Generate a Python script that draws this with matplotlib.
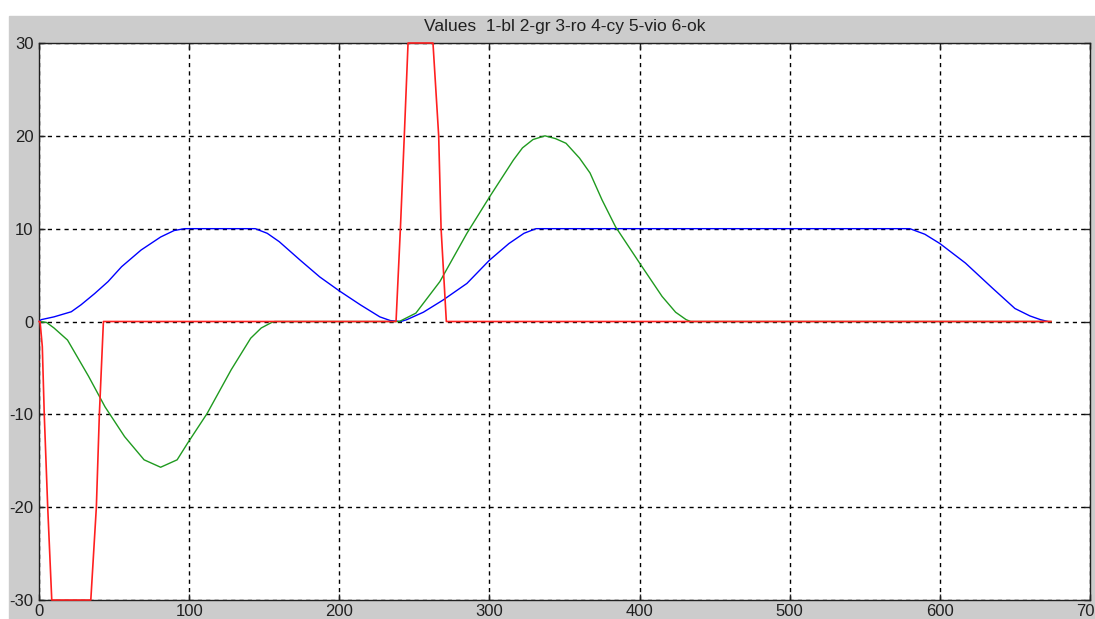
import matplotlib
matplotlib.use('Agg')
import matplotlib.pyplot as plt
from matplotlib.patches import Rectangle

plt.rcParams.update({
    'font.family': ['Liberation Sans', 'DejaVu Sans'],
    'font.size': 12,
    'axes.unicode_minus': False,
})

# ── Colours ──────────────────────────────────────────────────────────
BG_CLR    = '#cccccc'   # window gray
BLUE_CLR  = '#0000ff'
GREEN_CLR = '#1f9a1f'
RED_CLR   = '#ff2020'
AXIS_CLR  = '#202020'

# ── Data ────────────────────────────────────────────────────────────
# 1 - blue (position)
blue_x = [0, 1.5, 10, 21.5, 28, 37, 46, 55, 68, 81, 90, 97, 144, 152, 160,
          174, 187, 200, 214, 227, 234, 241, 245, 256, 269, 285, 300, 313,
          323, 331, 580, 590, 600, 617, 635, 650, 660, 667, 672]
blue_y = [0, 0.2, 0.5, 1.05, 1.8, 3.0, 4.3, 5.9, 7.7, 9.1, 9.8, 10, 10, 9.5,
          8.6, 6.6, 4.8, 3.3, 1.8, 0.5, 0.1, 0, 0.2, 1.0, 2.3, 4.1, 6.6, 8.4,
          9.5, 10, 10, 9.4, 8.4, 6.3, 3.6, 1.4, 0.6, 0.2, 0]

# 2 - green (velocity)
green_x = [0, 5, 10, 19, 33, 44, 57, 70, 81, 92, 99, 112, 128, 141, 148, 155,
           157, 240, 251, 267, 285, 300, 316, 322, 329, 333, 337, 344, 351,
           360, 367, 375, 384, 400, 415, 424, 431, 434, 674]
green_y = [0, -0.1, -0.7, -2.0, -5.9, -9.2, -12.4, -14.9, -15.7, -14.9, -13.1,
           -9.9, -5.2, -1.8, -0.7, -0.1, 0, 0, 0.9, 4.3, 9.5, 13.4, 17.4,
           18.7, 19.6, 19.8, 20, 19.7, 19.2, 17.6, 16, 13.1, 10.2, 6.3, 2.7,
           1.0, 0.2, 0, 0]

# 3 - red (acceleration, clipped at the axis limits)
red_x = [0, 0.7, 2.2, 3.5, 5.8, 8.5, 34.5, 38.2, 40.2, 42.9, 237.8, 240.7,
         243.3, 245.8, 262.4, 266.2, 267.8, 271.3, 674]
red_y = [0, 0, -2.7, -10, -20, -30, -30, -20, -10, 0, 0, 10, 20, 30, 30, 20,
         10, 0, 0]

x_ticks = [0, 100, 200, 300, 400, 500, 600, 700]
y_ticks = [-30, -20, -10, 0, 10, 20, 30]

W, H = 1095, 619
fig = plt.figure(figsize=(W / 100, H / 100), dpi=100, facecolor='white')
fig.patches.append(Rectangle((9 / W, 0), 1, (H - 16) / H,
                             transform=fig.transFigure, color=BG_CLR,
                             zorder=-10))

ax = fig.add_axes([39 / W, (H - 600) / H, (1090 - 39) / W, (600 - 43) / H])
ax.set_facecolor('white')

ax.plot(blue_x, blue_y, color=BLUE_CLR, lw=1.0, zorder=3)
ax.plot(green_x, green_y, color=GREEN_CLR, lw=1.0, zorder=3)
ax.plot(red_x, red_y, color=RED_CLR, lw=1.2, zorder=4, clip_on=False)

ax.set_xlim(0, 700)
ax.set_ylim(-30, 30)
ax.set_xticks(x_ticks)
ax.set_yticks(y_ticks)

ax.grid(True, color='black', linestyle=(0, (3, 3)), lw=1.0, zorder=1)
for s in ax.spines.values():
    s.set_color(AXIS_CLR)
    s.set_linewidth(1.0)
ax.tick_params(direction='in', length=4, width=1, colors=AXIS_CLR,
               top=True, right=True, labelsize=12, pad=4)
ax.tick_params(axis='x', pad=3)

ax.set_title('Values  1-bl 2-gr 3-ro 4-cy 5-vio 6-ok', fontsize=12.5,
             color='#202020', pad=9)

fig.savefig('out.png', dpi=100, facecolor='white')
plt.close()
